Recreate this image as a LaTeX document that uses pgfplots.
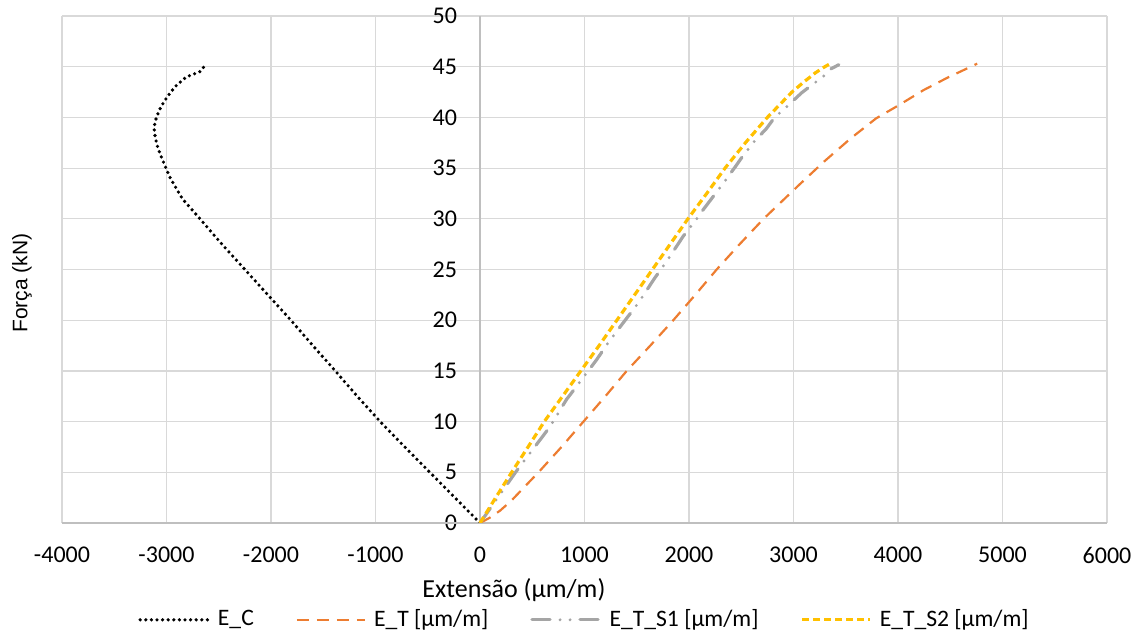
\documentclass[border=0pt]{standalone}
\usepackage{pgfplots}
\pgfplotsset{compat=1.18}
\usepackage{fontspec}
\setmainfont{Carlito}
\newfontfamily\arialfont{Liberation Sans}
\definecolor{gridc}{HTML}{D9D9D9}
\definecolor{axc}{HTML}{BFBFBF}
\definecolor{orangeT}{HTML}{ED7D31}
\definecolor{grayS}{HTML}{A5A5A5}
\definecolor{yellowS}{HTML}{FFC000}
\begin{document}
\begin{tikzpicture}
\useasboundingbox (0,0) rectangle (570.5pt,318.5pt);
\begin{axis}[
  at={(31pt,57pt)}, anchor=south west,
  scale only axis, width=522.5pt, height=253.5pt,
  xmin=-4000, xmax=6000, ymin=0, ymax=50,
  xtick={-4000,-3000,-2000,-1000,0,1000,2000,3000,4000,5000,6000},
  xticklabels={-4000,-3000,-2000,-1000,0,1000,2000,3000,4000,5000,6000},
  ytick={0,5,10,15,20,25,30,35,40,45,50},
  yticklabels={0,5,10,15,20,25,30,35,40,45,50},
  axis line style={draw=none}, tick style={draw=none},
  grid=major, major grid style={draw=gridc, line width=0.6pt},
  ticklabel style={font=\fontsize{12}{14}\selectfont},
  xticklabel style={yshift=-8.5pt},
  yticklabel style={anchor=east, xshift=201pt},
  extra x ticks={0}, extra x tick labels={},
  extra x tick style={grid=major, major grid style={draw=axc, line width=0.7pt}},
  extra y ticks={0}, extra y tick labels={},
  extra y tick style={grid=major, major grid style={draw=axc, line width=0.7pt}},
  xlabel={Extensão (µm/m)},
  xlabel style={at={(axis description cs:0.4325,-0.132)}, anchor=center, font=\fontsize{13}{15}\selectfont},
  ylabel={Força (kN)},
  ylabel style={at={(axis description cs:-0.0383,0.473)}, anchor=center, font=\arialfont\fontsize{10.5}{12}\selectfont},
  legend columns=4,
  legend style={at={(axis description cs:0.501,-0.191)}, anchor=center, draw=none,
    font=\fontsize{11.8}{13}\selectfont,
    /tikz/every odd column/.append style={column sep=2pt},
    /tikz/every even column/.append style={column sep=19pt}},
  legend image code/.code={\draw[#1] (0pt,0pt) -- (34pt,0pt);},
]
\addplot[black, line width=1.8pt, line cap=round, dash pattern=on 0pt off 2.8pt] coordinates {
(0,0) (-240,2.5) (-480,5) (-720,7.5) (-955,10) (-1175,12.5) (-1385,15) (-1600,17.5)
(-1810,20) (-2030,22.5) (-2250,25) (-2470,27.5) (-2680,30) (-2850,32) (-2963,34)
(-3005,35) (-3046,36) (-3083,37) (-3107,38) (-3120,39) (-3097,40) (-3055,41)
(-2995,42) (-2921,43) (-2810,44) (-2682,44.5) (-2624,45.2)
};
\addlegendentry{E\_C}
\addplot[orangeT, line width=1.1pt, dash pattern=on 6pt off 4pt] coordinates {
(0,0) (90,0.5) (190,1.2) (300,2.2) (420,3.5) (560,5) (780,7.5) (990,10) (1200,12.5) (1404,15)
(1630,17.5) (1850,20) (2060,22.5) (2265,25) (2485,27.5) (2714,30) (3049,33.3)
(3288,35.6) (3544,37.9) (3790,39.9) (4007,41.2) (4246,42.7) (4470,43.9) (4758,45.3)
};
\addlegendentry{E\_T [µm/m]}
\addplot[grayS, line width=1.6pt, line cap=round, dash pattern=on 9pt off 5pt on 0pt off 5pt on 0pt off 5pt] coordinates {
(0,0) (170,2.5) (340,5) (560,8) (670,9.5) (829,12.2) (941,13.7) (1116,16.1) (1228,17.8)
(1404,20.2) (1515,21.7) (1675,24.2) (1786,25.8) (1946,28.3) (2060,29.8) (2114,30.6)
(2232,32.2) (2343,33.7) (2391,34.4) (2448,35.2) (2502,36) (2614,37.5) (2677,38.2)
(2741,38.9) (2820,40) (2940,41.1) (3075,42.4) (3150,43) (3281,44) (3361,44.8) (3434,45.2)
};
\addlegendentry{E\_T\_S1 [µm/m]}
\addplot[yellowS, line width=1.6pt, dash pattern=on 3.5pt off 2pt] coordinates {
(0,0) (150,2.5) (303,5) (460,7.5) (615,10) (790,12.5) (965,15) (1140,17.5) (1310,20)
(1480,22.5) (1650,25) (1820,27.5) (1990,30) (2170,32.5) (2345,35) (2540,37.5)
(2750,40) (2985,42.5) (3100,43.5) (3210,44.4) (3300,45) (3352,45.3)
};
\addlegendentry{E\_T\_S2 [µm/m]}
\end{axis}
\end{tikzpicture}
\end{document}
